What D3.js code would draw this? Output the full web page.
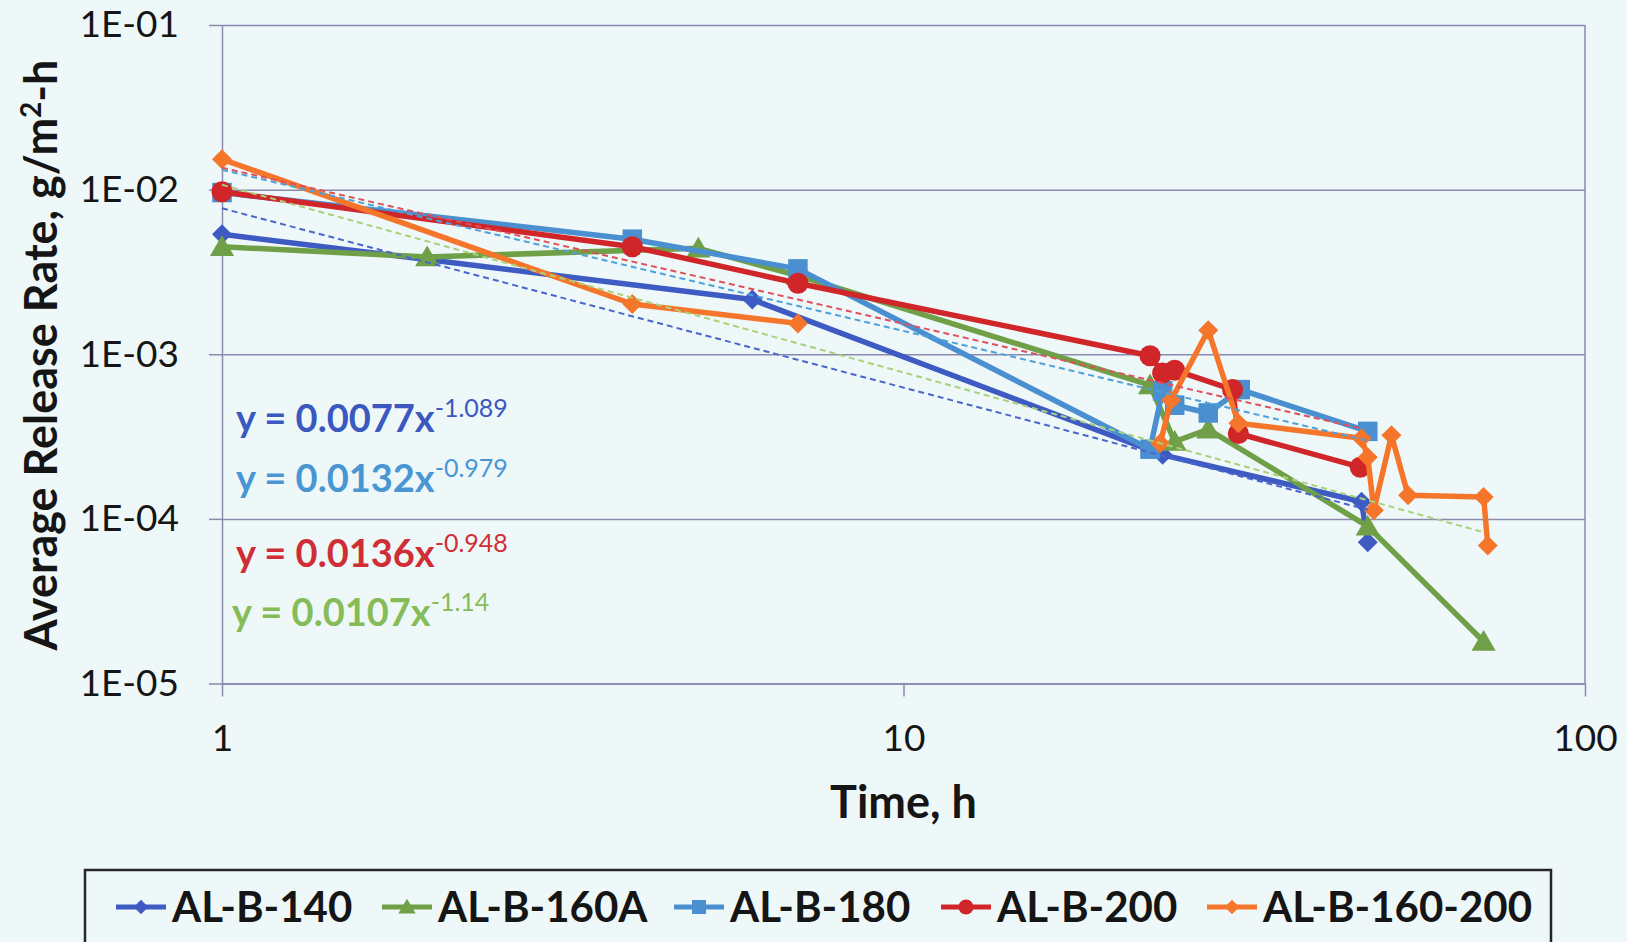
<!DOCTYPE html>
<html>
<head>
<meta charset="utf-8">
<script src="https://cdn.jsdelivr.net/npm/d3@7"></script>
<style>
  html, body { margin: 0; padding: 0; background: #eef8f8; }
  svg { display: block; font-family: Lato, "Open Sans", sans-serif; }
</style>
</head>
<body>
<svg id="chart" width="1627" height="942"></svg>
<script>
// Average release rate (g/m2-h) against elapsed time (h), five test runs
const seriesNames = ["AL-B-140", "AL-B-160A", "AL-B-180", "AL-B-200", "AL-B-160-200"];

const time140 = [1, 6, 24, 47, 48];
const rate140 = [5.35e-3, 2.15e-3, 2.45e-4, 1.27e-4, 7.2e-5];

const time160A = [1, 2, 5, 7, 23, 25, 28, 48, 71];
const rate160A = [4.5e-3, 3.9e-3, 4.4e-3, 3.0e-3, 6.5e-4, 2.95e-4, 3.5e-4, 9.0e-5, 1.8e-5];

const time180 = [1, 4, 7, 23, 24, 25, 28, 31.2, 48];
const rate180 = [9.6e-3, 5.0e-3, 3.3e-3, 2.65e-4, 6.0e-4, 4.9e-4, 4.4e-4, 6.1e-4, 3.4e-4];

const time200 = [1, 4, 7, 23, 24, 25, 30.4, 31, 46.8];
const rate200 = [9.7e-3, 4.5e-3, 2.7e-3, 9.8e-4, 7.7e-4, 8.0e-4, 6.1e-4, 3.3e-4, 2.06e-4];

// null marks the break in this run's record between 7 h and 24 h
const time160200 = [1, 4, 7, null, 23.8, 24.7, 28, 31, 47, 48, 49, 52, 55, 71, 72];
const rate160200 = [1.53e-2, 2.02e-3, 1.54e-3, null, 2.88e-4, 5.25e-4, 1.40e-3, 3.81e-4, 3.09e-4, 2.37e-4, 1.13e-4, 3.22e-4, 1.39e-4, 1.36e-4, 6.9e-5];

// Power-law trend lines, y = a * x^b
const fitCoef = [0.0077, 0.0132, 0.0136, 0.0107];
const fitExp = [-1.089, -0.979, -0.948, -1.14];
const fitCoefText = ["0.0077", "0.0132", "0.0136", "0.0107"];
const fitExpText = ["-1.089", "-0.979", "-0.948", "-1.14"];
const fitStart = [1, 1, 1, 1];
const fitEnd = [48, 48, 47, 71];

const xTicks = [1, 10, 100];
const xTickLabels = ["1", "10", "100"];
const yTicks = [1e-5, 1e-4, 1e-3, 1e-2, 1e-1];
const yTickLabels = ["1E-05", "1E-04", "1E-03", "1E-02", "1E-01"];

// ---------------------------------------------------------------
const W = 1627, H = 942;
const plot = { left: 222, right: 1585, top: 25, bottom: 683.5 };
const bg = "#eef8f8";
const gridColor = "#8a8ab0";

const seriesStyle = [
  { color: "#3d5bc2", marker: "diamond" },
  { color: "#6f9f46", marker: "triangle" },
  { color: "#4a8fcf", marker: "square" },
  { color: "#d0262a", marker: "circle" },
  { color: "#f5762a", marker: "diamond" }
];
const fitLineColor = ["#4a66cc", "#4fa0da", "#e0505a", "#a8d27a"];
const fitTextColor = ["#3a58c0", "#4896d4", "#cf2e36", "#86bc58"];

const seriesData = [
  d3.zip(time140, rate140),
  d3.zip(time160A, rate160A),
  d3.zip(time180, rate180),
  d3.zip(time200, rate200),
  d3.zip(time160200, rate160200)
];

const svg = d3.select("#chart");
svg.append("rect").attr("width", W).attr("height", H).attr("fill", bg);

const x = d3.scaleLog().domain([1, 100]).range([plot.left, plot.right]);
const y = d3.scaleLog().domain([1e-5, 1e-1]).range([plot.bottom, plot.top]);

// horizontal grid
const grid = svg.append("g").attr("transform", `translate(${plot.left},0)`)
  .call(d3.axisLeft(y).tickValues(yTicks).tickSize(-(plot.right - plot.left)).tickFormat(""));
grid.select(".domain").remove();
grid.selectAll("line").attr("stroke", gridColor).attr("stroke-width", 1.5);

// right frame edge
svg.append("line")
  .attr("x1", x(100)).attr("x2", x(100))
  .attr("y1", y(1e-1)).attr("y2", y(1e-5))
  .attr("stroke", gridColor).attr("stroke-width", 1.5);

// y axis
const yAxis = svg.append("g").attr("transform", `translate(${plot.left},0)`)
  .call(d3.axisLeft(y).tickValues(yTicks)
    .tickFormat((d, i) => yTickLabels[i])
    .tickSize(13).tickSizeOuter(0).tickPadding(30));
yAxis.selectAll("path,line").attr("stroke", gridColor).attr("stroke-width", 1.5);
yAxis.selectAll("text").attr("font-size", 37).attr("fill", "#151515")
  .attr("font-family", "Lato, sans-serif");

// x axis
const xAxis = svg.append("g").attr("transform", `translate(0,${plot.bottom})`)
  .call(d3.axisBottom(x).tickValues(xTicks)
    .tickFormat((d, i) => xTickLabels[i])
    .tickSize(13).tickSizeOuter(0).tickPadding(28));
xAxis.selectAll("path,line").attr("stroke", gridColor).attr("stroke-width", 1.5);
xAxis.selectAll("text").attr("font-size", 37).attr("fill", "#151515")
  .attr("font-family", "Lato, sans-serif");

// axis titles
svg.append("text")
  .attr("x", (plot.left + plot.right) / 2).attr("y", 818)
  .attr("text-anchor", "middle")
  .attr("font-size", 45).attr("font-weight", 700).attr("fill", "#151515")
  .text("Time, h");

const yTitle = svg.append("text")
  .attr("transform", "translate(57,355) rotate(-90)")
  .attr("text-anchor", "middle")
  .attr("font-size", 45).attr("font-weight", 700).attr("fill", "#151515");
yTitle.append("tspan").text("Average Release Rate, g/m");
yTitle.append("tspan").attr("font-size", 28).attr("dy", -16).text("2");
yTitle.append("tspan").attr("dy", 16).text("-h");

// marker shapes
function markerPath(type, scale) {
  const k = scale || 1;
  if (type === "diamond") {
    const s = 10 * k;
    return `M0,${-s}L${s},0L0,${s}L${-s},0Z`;
  }
  if (type === "square") return d3.symbol(d3.symbolSquare, 380 * k * k)();
  if (type === "circle") return d3.symbol(d3.symbolCircle, 350 * k * k)();
  if (type === "triangle") {
    const s = 11.5 * k;
    return `M0,${-s}L${s * 1.05},${s * 0.8}L${-s * 1.05},${s * 0.8}Z`;
  }
}

const hasValue = d => d[0] != null && d[1] != null;
const line = d3.line().defined(hasValue).x(d => x(d[0])).y(d => y(d[1]));

seriesData.forEach((data, i) => {
  const st = seriesStyle[i];
  const g = svg.append("g").attr("class", "series");
  g.append("path").datum(data)
    .attr("d", line)
    .attr("fill", "none")
    .attr("stroke", st.color)
    .attr("stroke-width", 5.5)
    .attr("stroke-linejoin", "round")
    .attr("stroke-linecap", "round");
  g.selectAll("path.mk").data(data.filter(hasValue)).join("path")
    .attr("class", "mk")
    .attr("transform", d => `translate(${x(d[0])},${y(d[1])})`)
    .attr("d", markerPath(st.marker))
    .attr("fill", st.color);
});

// trend lines
fitCoef.forEach((a, i) => {
  const pts = [fitStart[i], fitEnd[i]].map(t => [t, a * Math.pow(t, fitExp[i])]);
  svg.append("path").datum(pts)
    .attr("d", line)
    .attr("fill", "none")
    .attr("stroke", fitLineColor[i])
    .attr("stroke-width", 2)
    .attr("stroke-dasharray", "6,4");
});

// trend equations
const eqX = [236, 236, 236, 232];
const eqY = [432, 492, 567, 626];
fitCoef.forEach((a, i) => {
  const t = svg.append("text")
    .attr("x", eqX[i]).attr("y", eqY[i])
    .attr("fill", fitTextColor[i]);
  t.append("tspan").attr("font-size", 38).attr("font-weight", 700)
    .text(`y = ${fitCoefText[i]}x`);
  t.append("tspan").attr("font-size", 25).attr("font-weight", 400)
    .attr("dy", -15).text(fitExpText[i]);
});

// legend
svg.append("rect")
  .attr("x", 85).attr("y", 870).attr("width", 1466).attr("height", 110)
  .attr("fill", "none").attr("stroke", "#262626").attr("stroke-width", 2.5);

const legX = [116, 382, 674, 941, 1207];
const legY = 907;
seriesNames.forEach((name, i) => {
  const st = seriesStyle[i];
  const g = svg.append("g");
  g.append("line")
    .attr("x1", legX[i]).attr("x2", legX[i] + 50)
    .attr("y1", legY).attr("y2", legY)
    .attr("stroke", st.color).attr("stroke-width", 5);
  g.append("path")
    .attr("transform", `translate(${legX[i] + 25},${legY})`)
    .attr("d", markerPath(st.marker, 0.72))
    .attr("fill", st.color);
  g.append("text")
    .attr("x", legX[i] + 56).attr("y", legY).attr("dy", "0.36em")
    .attr("font-size", 42).attr("font-weight", 700).attr("fill", "#151515")
    .text(name);
});
</script>
</body>
</html>
